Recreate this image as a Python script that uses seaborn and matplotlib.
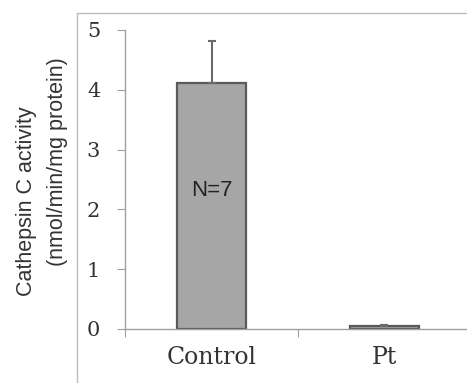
import pandas as pd
import seaborn as sns
import matplotlib.pyplot as plt
from matplotlib.lines import Line2D

groups = ['Control', 'Pt']
activity = [4.12, 0.05]
sem = [0.69, 0.01]
yticks = [0, 1, 2, 3, 4, 5]

df = pd.DataFrame({'group': groups, 'activity': activity})

sns.set_style('white')
fig = plt.figure(figsize=(4.67, 3.83), dpi=100)
ax = fig.add_axes([0.268, 0.141, 0.74, 0.781])

sns.barplot(x='group', y='activity', data=df, ax=ax, width=0.4,
            color='#a6a6a6', edgecolor='#5a5a5a', linewidth=1.6, saturation=1)
ax.errorbar(range(len(groups)), activity, yerr=[[0, 0], sem], fmt='none',
            ecolor='#6a6a6a', elinewidth=1.5, capsize=3, capthick=1.5)

ax.text(0, 2.32, 'N=7', ha='center', va='center', fontsize=16,
        family='Liberation Sans', color='#222222')

ax.set_xlim(-0.5, 1.5)
ax.set_ylim(0, 5)
ax.set_yticks(yticks)
ax.set_xticks([-0.5, 0.5, 1.5], minor=False)
ax.set_xticklabels([])
ax.set_xticks([0, 1], minor=True)
ax.set_xticklabels(groups, minor=True, fontsize=17, family='DejaVu Serif', color='#333333')
ax.tick_params(axis='x', which='minor', length=0, pad=12)
ax.tick_params(axis='x', which='major', direction='out', length=6, color='#a0a0a0', bottom=True)
ax.tick_params(axis='y', direction='out', length=6, color='#a0a0a0', left=True,
               labelsize=15, labelcolor='#333333', pad=12)
for lab in ax.get_yticklabels():
    lab.set_family('DejaVu Serif')
ax.set_xlabel('')
ax.set_ylabel('')

# y axis title, two lines placed as in the original panel
fig.text(27 / 467, 1 - 201 / 383, 'Cathepsin C activity', rotation=90, ha='center', va='center',
         fontsize=15.5, family='Liberation Sans', color='#333333')
fig.text(58 / 467, 1 - 162 / 383, '(nmol/min/mg protein)', rotation=90, ha='center', va='center',
         fontsize=15.5, family='Liberation Sans', color='#333333')

for s in ['top', 'right']:
    ax.spines[s].set_visible(False)
for s in ['left', 'bottom']:
    ax.spines[s].set_color('#a0a0a0')
    ax.spines[s].set_linewidth(1.0)

# outer frame of the panel
fig.add_artist(Line2D([77 / 467, 77 / 467], [0, 1 - 13 / 383], transform=fig.transFigure,
                      color='#bdbdbd', linewidth=1.0))
fig.add_artist(Line2D([77 / 467, 1], [1 - 13 / 383, 1 - 13 / 383], transform=fig.transFigure,
                      color='#bdbdbd', linewidth=1.0))

fig.savefig('out.png', dpi=100)
